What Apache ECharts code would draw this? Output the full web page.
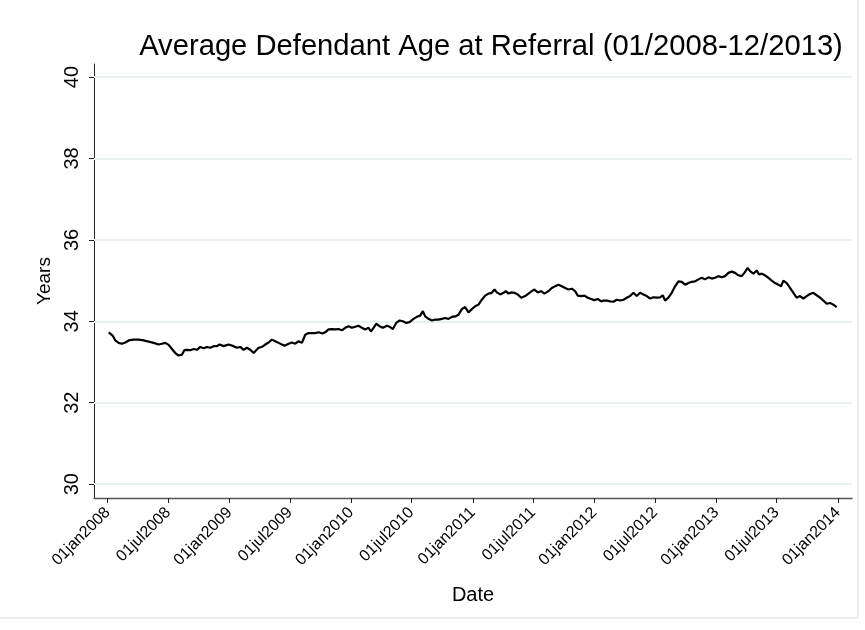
<!DOCTYPE html>
<html>
<head>
<meta charset="utf-8">
<script src="https://cdn.jsdelivr.net/npm/echarts@6/dist/echarts.min.js"></script>
<style>html,body{margin:0;padding:0;background:#fff;}#c{width:865px;height:630px;}</style>
</head>
<body>
<div id="c"></div>
<script>
var titleText = 'Average Defendant Age at Referral (01/2008-12/2013)';
var xName = 'Date';
var yName = 'Years';
var yTicks = [30, 32, 34, 36, 38, 40];
var xTickDates = ['2008-01-01','2008-07-01','2009-01-01','2009-07-01','2010-01-01','2010-07-01','2011-01-01','2011-07-01','2012-01-01','2012-07-01','2013-01-01','2013-07-01','2014-01-01'];
var dates = [
'2008-01-04','2008-01-09','2008-01-16','2008-01-24','2008-02-03','2008-02-13','2008-02-23','2008-03-04','2008-03-19','2008-04-03',
'2008-04-18','2008-05-03','2008-05-18','2008-06-02','2008-06-12','2008-06-22','2008-07-02','2008-07-12','2008-07-22','2008-08-01',
'2008-08-11','2008-08-18','2008-08-26','2008-09-05','2008-09-15','2008-09-25','2008-10-05','2008-10-15','2008-10-25','2008-11-04',
'2008-11-14','2008-11-24','2008-12-02','2008-12-14','2008-12-29','2009-01-03','2009-01-13','2009-01-23','2009-02-02','2009-02-12',
'2009-02-22','2009-03-04','2009-03-14','2009-03-19','2009-03-29','2009-04-08','2009-04-18','2009-04-28','2009-05-08','2009-05-18',
'2009-05-28','2009-06-07','2009-06-15','2009-06-27','2009-07-07','2009-07-17','2009-07-27','2009-08-06','2009-08-16','2009-08-26',
'2009-09-05','2009-09-15','2009-09-25','2009-10-07','2009-10-15','2009-10-25','2009-11-04','2009-11-14','2009-11-24','2009-12-04',
'2009-12-14','2009-12-24','2010-01-03','2010-01-08','2010-01-23','2010-02-02','2010-02-12','2010-02-22','2010-03-01','2010-03-09',
'2010-03-17','2010-03-27','2010-04-06','2010-04-18','2010-04-28','2010-05-06','2010-05-16','2010-05-26','2010-06-05','2010-06-15',
'2010-06-25','2010-07-07','2010-07-17','2010-07-27','2010-08-04','2010-08-11','2010-08-21','2010-08-31','2010-09-10','2010-09-20',
'2010-09-30','2010-10-10','2010-10-20','2010-10-30','2010-11-09','2010-11-19','2010-11-29','2010-12-09','2010-12-19','2010-12-29',
'2011-01-08','2011-01-18','2011-01-28','2011-02-07','2011-02-17','2011-02-27','2011-03-07','2011-03-14','2011-03-24','2011-04-03',
'2011-04-10','2011-04-18','2011-04-26','2011-05-06','2011-05-16','2011-05-26','2011-06-07','2011-06-17','2011-06-27','2011-07-05',
'2011-07-15','2011-07-25','2011-08-04','2011-08-16','2011-08-26','2011-09-05','2011-09-15','2011-09-25','2011-10-05','2011-10-15',
'2011-10-25','2011-11-04','2011-11-12','2011-11-22','2011-12-02','2011-12-12','2011-12-22','2012-01-01','2012-01-11','2012-01-21',
'2012-01-28','2012-02-07','2012-02-17','2012-02-27','2012-03-08','2012-03-18','2012-03-28','2012-04-07','2012-04-17','2012-04-27',
'2012-05-07','2012-05-17','2012-05-27','2012-06-06','2012-06-16','2012-06-26','2012-07-06','2012-07-16','2012-07-24','2012-07-31',
'2012-08-10','2012-08-20','2012-08-30','2012-09-09','2012-09-19','2012-09-29','2012-10-09','2012-10-19','2012-10-29','2012-11-08',
'2012-11-18','2012-11-28','2012-12-08','2012-12-18','2012-12-28','2013-01-07','2013-01-17','2013-01-27','2013-02-06','2013-02-16',
'2013-02-26','2013-03-08','2013-03-18','2013-03-26','2013-04-05','2013-04-12','2013-04-22','2013-05-02','2013-05-09','2013-05-17',
'2013-05-27','2013-06-06','2013-06-16','2013-06-26','2013-07-06','2013-07-14','2013-07-21','2013-07-31','2013-08-10','2013-08-20',
'2013-08-30','2013-09-09','2013-09-19','2013-09-29','2013-10-09','2013-10-19','2013-10-29','2013-11-08','2013-11-18','2013-11-28',
'2013-12-08','2013-12-18','2013-12-28'
];
var ages = [
33.73,33.71,33.65,33.53,33.47,33.45,33.48,33.53,33.55,33.55,
33.53,33.50,33.47,33.43,33.45,33.47,33.42,33.32,33.22,33.16,
33.18,33.29,33.30,33.29,33.32,33.30,33.37,33.34,33.37,33.35,
33.39,33.39,33.43,33.39,33.43,33.43,33.39,33.35,33.37,33.30,
33.35,33.30,33.22,33.24,33.35,33.37,33.43,33.48,33.55,33.51,
33.47,33.43,33.40,33.45,33.48,33.45,33.51,33.47,33.67,33.71,
33.71,33.71,33.73,33.70,33.73,33.80,33.81,33.80,33.81,33.78,
33.84,33.88,33.84,33.81,33.89,33.84,33.80,33.84,33.75,33.84,
33.94,33.88,33.84,33.89,33.86,33.81,33.96,34.02,34.00,33.96,
33.98,34.06,34.11,34.14,34.25,34.12,34.06,34.02,34.04,34.04,
34.06,34.08,34.06,34.11,34.12,34.16,34.30,34.35,34.22,34.30,
34.37,34.41,34.53,34.63,34.68,34.70,34.78,34.71,34.66,34.70,
34.74,34.68,34.71,34.70,34.66,34.58,34.62,34.68,34.74,34.78,
34.71,34.74,34.68,34.74,34.82,34.86,34.90,34.86,34.82,34.78,
34.80,34.74,34.63,34.62,34.63,34.58,34.55,34.52,34.55,34.49,
34.51,34.51,34.49,34.48,34.53,34.51,34.53,34.58,34.62,34.70,
34.62,34.70,34.66,34.62,34.56,34.59,34.58,34.59,34.64,34.51,
34.58,34.70,34.86,34.98,34.97,34.90,34.94,34.97,34.98,35.03,
35.07,35.03,35.08,35.05,35.07,35.11,35.08,35.11,35.19,35.22,
35.19,35.13,35.11,35.19,35.31,35.23,35.17,35.25,35.15,35.17,
35.13,35.07,35.00,34.94,34.90,34.86,35.00,34.94,34.82,34.70,
34.58,34.62,34.56,34.62,34.67,34.70,34.64,34.58,34.51,34.43,
34.45,34.41,34.35
];

function ts(s) { var p = s.split('-'); return Date.UTC(+p[0], +p[1] - 1, +p[2]); }
var MON = ['jan','feb','mar','apr','may','jun','jul','aug','sep','oct','nov','dec'];
function fmt(v) {
  var d = new Date(v);
  var dd = d.getUTCDate();
  return (dd < 10 ? '0' : '') + dd + MON[d.getUTCMonth()] + d.getUTCFullYear();
}
var seriesData = dates.map(function (d, i) { return [ts(d), ages[i]]; });
var xTickValues = xTickDates.map(ts);

var chart = echarts.init(document.getElementById('c'), null, { renderer: 'canvas' });
var FONT = 'Liberation Sans, Arial, Helvetica, sans-serif';
chart.setOption({
  backgroundColor: '#ffffff',
  animation: false,
  title: {
    text: titleText,
    left: 486, top: 27, textAlign: 'center',
    textStyle: { fontFamily: FONT, fontSize: 29.2, fontWeight: 'normal', color: '#000' }
  },
  grid: { left: 94, right: 13, top: 64, bottom: 132, containLabel: false },
  xAxis: {
    type: 'value',
    min: ts('2007-11-21'),
    max: ts('2014-02-12'),
    name: xName,
    nameLocation: 'middle',
    nameGap: 87,
    nameTextStyle: { fontFamily: FONT, fontSize: 20, color: '#000' },
    axisLine: { show: true, onZero: false, lineStyle: { color: '#555', width: 1.3 } },
    axisTick: { show: true, length: 5, customValues: xTickValues, lineStyle: { color: '#222', width: 1 } },
    axisLabel: {
      customValues: xTickValues,
      rotate: 45, margin: 12,
      fontFamily: FONT, fontSize: 16, color: '#000',
      formatter: fmt
    },
    splitLine: { show: false }
  },
  yAxis: {
    type: 'value',
    min: 29.66,
    max: 40.32,
    name: yName,
    nameLocation: 'middle',
    nameGap: 40,
    nameTextStyle: { fontFamily: FONT, fontSize: 19, color: '#000' },
    axisLine: { show: true, lineStyle: { color: '#222', width: 1 } },
    axisTick: { show: true, length: 5, customValues: yTicks, lineStyle: { color: '#222', width: 1 } },
    axisLabel: {
      customValues: yTicks,
      rotate: 90, margin: 12,
      fontFamily: FONT, fontSize: 20, color: '#000'
    },
    splitLine: { show: false }
  },
  series: [{
    type: 'line',
    data: seriesData,
    showSymbol: false,
    symbol: 'none',
    lineStyle: { color: '#000', width: 2.2 },
    z: 3,
    markLine: {
      silent: true,
      symbol: 'none',
      label: { show: false },
      lineStyle: { color: '#e8f0f2', width: 2, type: 'solid' },
      z: 1,
      data: yTicks.map(function (v) { return { yAxis: v }; })
    }
  }],
  graphic: [{
    type: 'rect',
    shape: { x: -1, y: -1, width: 859, height: 619 },
    style: { fill: 'none', stroke: '#dedede', lineWidth: 1 },
    silent: true, z: -1
  }]
});
</script>
</body>
</html>
